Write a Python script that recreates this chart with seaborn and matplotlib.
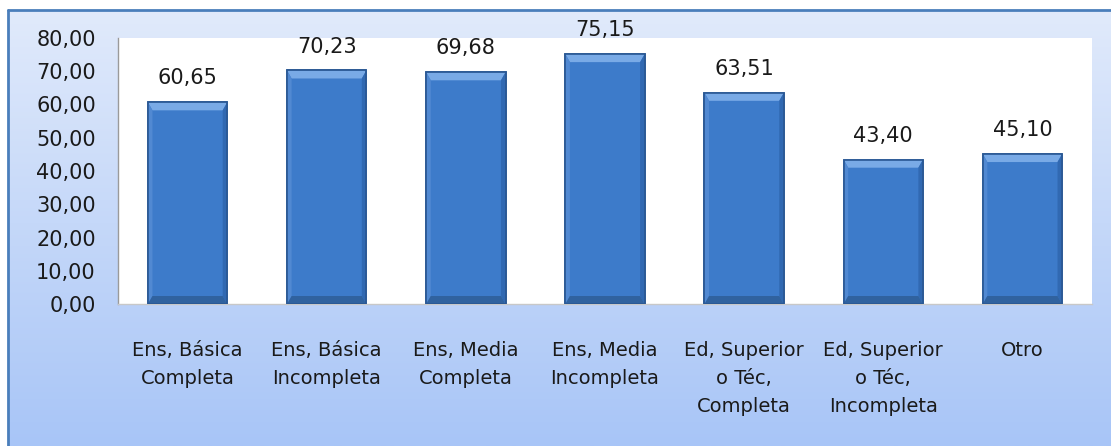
import numpy as np
import pandas as pd
import matplotlib
matplotlib.use("Agg")
import matplotlib.pyplot as plt
from matplotlib.patches import Rectangle, Polygon
import seaborn as sns

# Data
categories = ["Ens, Básica\nCompleta", "Ens, Básica\nIncompleta", "Ens, Media\nCompleta",
              "Ens, Media\nIncompleta", "Ed, Superior\no Téc,\nCompleta",
              "Ed, Superior\no Téc,\nIncompleta", "Otro"]
values = [60.65, 70.23, 69.68, 75.15, 63.51, 43.40, 45.10]
yticks = [0, 10, 20, 30, 40, 50, 60, 70, 80]

df = pd.DataFrame({"Categoria": categories, "Valor": values})

sns.set_style("white")
plt.rcParams['font.family'] = ['DejaVu Sans']

W, H = 1111, 446
fig = plt.figure(figsize=(W / 100, H / 100), dpi=100)

# background gradient of the chart area
bg = fig.add_axes([0, 0, 1, 1], zorder=0)
grad = np.linspace(0, 1, 256).reshape(-1, 1)
cmap = matplotlib.colors.LinearSegmentedColormap.from_list("bg", ["#e2ebfb", "#a8c5f7"])
bg.imshow(grad, aspect="auto", cmap=cmap, extent=[0, 1, 0, 1], origin="upper")
bg.set_xlim(0, 1)
bg.set_ylim(0, 1)
bg.axis("off")
# outer border
bg.add_patch(Rectangle((0, 1 - 10 / H), 1, 10 / H, color="white", zorder=2))
bg.add_patch(Rectangle((0, 0), 8 / W, 1, color="white", zorder=2))
bg.plot([8 / W, 8 / W], [0, 1 - 10 / H], color="#4a7ebb", lw=2, zorder=3)
bg.plot([8 / W, 1], [1 - 10 / H, 1 - 10 / H], color="#4a7ebb", lw=2, zorder=3)

# plot area
left, right, top, bottom = 118, 1092, 38, 304
ax = fig.add_axes([left / W, 1 - bottom / H, (right - left) / W, (bottom - top) / H], zorder=1)
ax.set_facecolor("white")

sns.barplot(data=df, x="Categoria", y="Valor", ax=ax, color="#3d7bca",
            width=0.57, edgecolor="#2a5894", linewidth=1.2, saturation=1)

# bevel effect on each bar
px = 80 / (bottom - top)  # data units per pixel
for p in ax.patches:
    x0, w, h = p.get_x(), p.get_width(), p.get_height()
    x1 = x0 + w
    b = 8 * px
    bx = w * 8 / ((right - left) / len(categories))
    ax.add_patch(Polygon([[x0, h], [x1, h], [x1 - bx, h - b], [x0 + bx, h - b]],
                         closed=True, facecolor="#79aae6", edgecolor="none", zorder=3))
    ax.add_patch(Polygon([[x0, 0], [x0, h], [x0 + bx, h - b], [x0 + bx, b]],
                         closed=True, facecolor="#5189d2", edgecolor="none", zorder=3))
    ax.add_patch(Polygon([[x1, 0], [x1, h], [x1 - bx, h - b], [x1 - bx, b]],
                         closed=True, facecolor="#3169b2", edgecolor="none", zorder=3))
    ax.add_patch(Polygon([[x0, 0], [x1, 0], [x1 - bx, b], [x0 + bx, b]],
                         closed=True, facecolor="#30629f", edgecolor="none", zorder=3))
    ax.add_patch(Rectangle((x0, 0), w, h, facecolor="none", edgecolor="#2a5894",
                           linewidth=1.2, zorder=4))

for i, v in enumerate(values):
    ax.annotate(f"{v:.2f}".replace(".", ","), (i, v), xytext=(0, 10),
                textcoords="offset points", ha="center", va="bottom",
                fontsize=15, color="#1a1a1a")

ax.set_ylim(0, 80)
ax.set_xlim(-0.5, len(categories) - 0.5)
ax.set_yticks(yticks)
ax.set_yticklabels([f"{t:.2f}".replace(".", ",") for t in yticks], fontsize=15, color="#1a1a1a")
ax.tick_params(axis="y", length=0, pad=16)
ax.tick_params(axis="x", length=0, pad=27)
for lbl in ax.get_xticklabels():
    lbl.set_fontsize(14)
    lbl.set_color("#1a1a1a")
    lbl.set_linespacing(1.6)
ax.set_xlabel("")
ax.set_ylabel("")
for s in ["top", "right"]:
    ax.spines[s].set_visible(False)
ax.spines["left"].set_color("#9a9a9a")
ax.spines["bottom"].set_color("#c8c8c8")
ax.spines["left"].set_linewidth(1)
ax.spines["bottom"].set_linewidth(1)

fig.savefig("out.png", dpi=100)
